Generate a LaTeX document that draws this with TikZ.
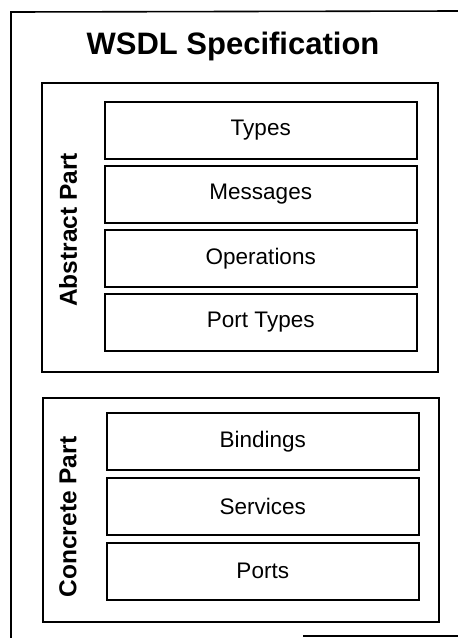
\documentclass[tikz,border=0pt]{standalone}
\usepackage{fontspec}
\setmainfont{Liberation Sans}
\begin{document}
\begin{tikzpicture}[x=1pt,y=1pt,
  frame/.style={draw=black, line width=1.6pt},
  partbox/.style={frame, rectangle, inner sep=0pt, anchor=north west},
  itembox/.style={draw=black, line width=1.5pt, rectangle, minimum width=312pt, minimum height=57pt, inner sep=0pt, anchor=north west, font=\fontsize{22.5}{26}\selectfont},
  sidelabel/.style={rotate=90, font=\bfseries\fontsize{24.5}{28}\selectfont},
  titlelabel/.style={font=\bfseries\fontsize{31}{36}\selectfont}]
\useasboundingbox (0,0) rectangle (458,-638);
\fill[white] (0,0) rectangle (458,-638);
% outer frame (partly cut off by the page edge)
\coordinate (otr) at (458,-11);
\coordinate (otl) at (11,-12);
\coordinate (obl) at (11,-638);
\coordinate (obm) at (303,-636);
\coordinate (obr) at (458,-636);
\draw[frame] (otr) -- (otl) -- (obl);
\draw[frame] (obm) -- (obr);
\node[titlelabel] (title) at (233,-46) {WSDL Specification};
% abstract part
\node[partbox, minimum width=396pt, minimum height=289pt] (abs) at (41,-82) {};
\node[sidelabel] (abslbl) at (68,-230) {Abstract Part};
\node[itembox] (types) at (104,-101) {Types};
\node[itembox] (msgs) at (104,-165) {Messages};
\node[itembox] (ops) at (104,-229) {Operations};
\node[itembox] (ptypes) at (104,-293) {Port Types};
% concrete part
\node[partbox, minimum width=396pt, minimum height=224pt] (con) at (42,-397) {};
\node[sidelabel] (conlbl) at (68,-517) {Concrete Part};
\node[itembox] (bind) at (106,-412) {Bindings};
\node[itembox] (serv) at (106,-477) {Services};
\node[itembox] (ports) at (106,-542) {Ports};
\end{tikzpicture}
\end{document}
